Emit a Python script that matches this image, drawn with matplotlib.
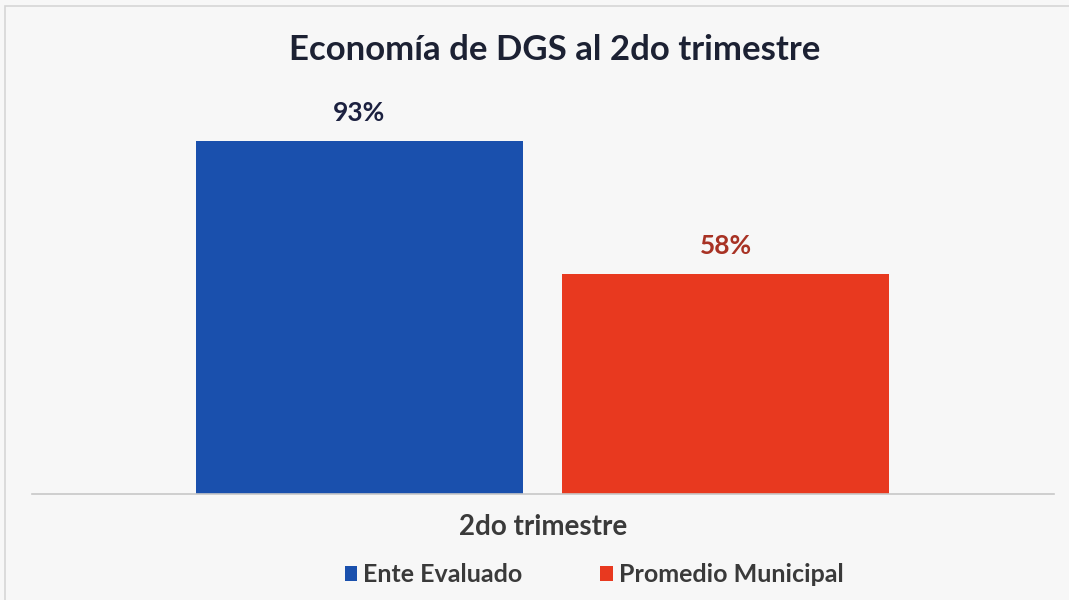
import matplotlib
matplotlib.use("Agg")
import matplotlib.pyplot as plt
from matplotlib.patches import Rectangle, Patch

# Data
category = "2do trimestre"
series_names = ["Ente Evaluado", "Promedio Municipal"]
values = [93, 58]
colors = ["#1a50ad", "#e8391f"]
label_colors = ["#1c2140", "#a83224"]
title = "Economía de DGS al 2do trimestre"

plt.rcParams['font.family'] = ['Lato', 'DejaVu Sans']

fig = plt.figure(figsize=(10.69, 6.0), dpi=100)
fig.patch.set_facecolor("#f7f7f7")
fig.add_artist(Rectangle((5/1069, -0.05), 1.2, 1 - 6/600 + 0.05, transform=fig.transFigure,
                         fill=False, edgecolor="#d6d6d6", linewidth=1.2))

ax = fig.add_axes([32/1069, 1 - 494/600, 1022/1069, 380/600])
ax.set_facecolor("none")
offsets = [-0.1796, 0.1786]
width = 0.32
for off, v, c, lc in zip(offsets, values, colors, label_colors):
    ax.bar(off, v, width=width, color=c)
    ax.text(off, v + 4.0, f"{v}%", ha="center", va="bottom", fontsize=19,
            fontweight="bold", color=lc)
ax.set_xlim(-0.5, 0.5)
ax.set_ylim(0, 100)
ax.set_yticks([])
ax.set_xticks([0])
ax.set_xticklabels([category], fontsize=20, fontweight="bold", color="#3a3a3a")
ax.tick_params(axis="x", length=0, pad=14.5)
for s in ["top", "right", "left"]:
    ax.spines[s].set_visible(False)
ax.spines["bottom"].set_color("#c8c8c8")
ax.spines["bottom"].set_linewidth(1.2)

fig.text(0.519, 1 - 50/600, title, ha="center", va="center", fontsize=25,
         fontweight="bold", color="#1c2133")

handles = [Patch(facecolor=c, edgecolor="none") for c in colors]
leg = fig.legend(handles, series_names, loc="center", bbox_to_anchor=(0.5557, 1 - 575/600),
                 ncol=2, frameon=False, fontsize=18, handlelength=0.5, handleheight=0.55,
                 handletextpad=0.25, columnspacing=3.1)
for t in leg.get_texts():
    t.set_fontweight("bold")
    t.set_color("#3a3a3a")

fig.savefig("out.png", dpi=100, facecolor=fig.get_facecolor())
